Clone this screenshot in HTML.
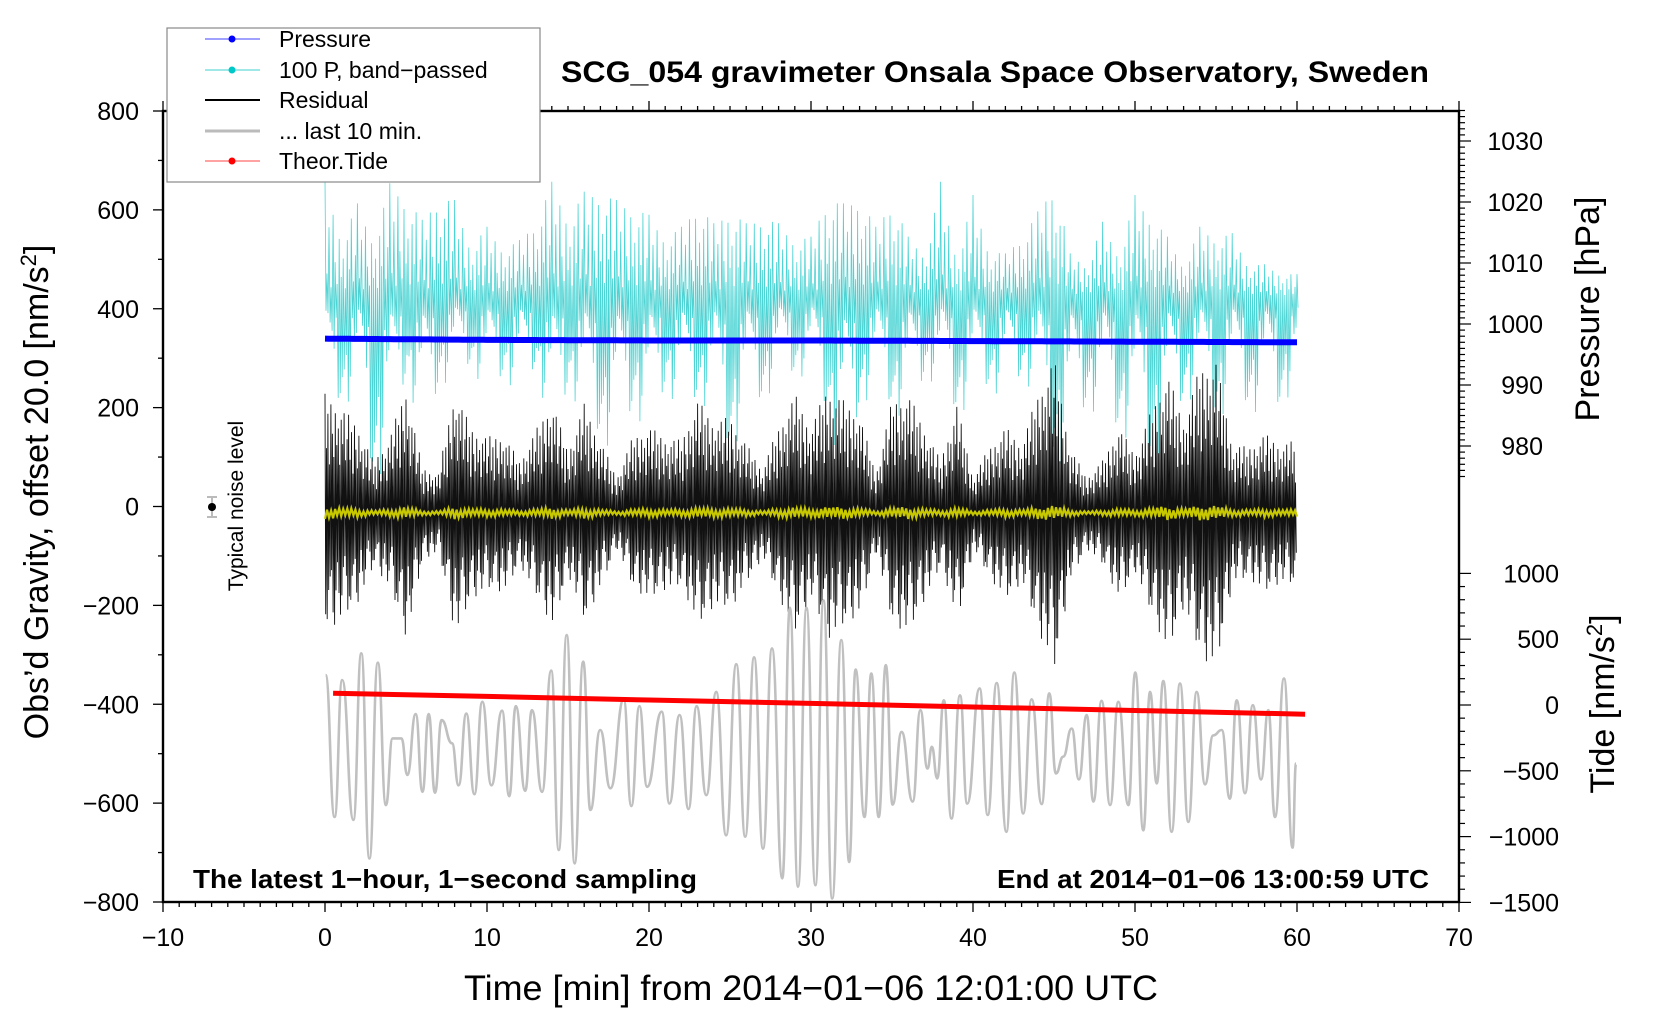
<!DOCTYPE html>
<html><head><meta charset="utf-8"><style>
html,body{margin:0;padding:0;background:#fff}
svg{display:block;font-family:"Liberation Sans",Arial,sans-serif}
</style></head><body>
<svg id="chart" width="1660" height="1020" viewBox="0 0 1660 1020" xmlns="http://www.w3.org/2000/svg">
<g id="plot"></g>
<g id="axes"></g>
<text x="995" y="82" font-size="30" font-weight="bold" text-anchor="middle" textLength="868" lengthAdjust="spacingAndGlyphs">SCG_054 gravimeter Onsala Space Observatory, Sweden</text>
<text x="193" y="888" font-size="26" font-weight="bold" textLength="504" lengthAdjust="spacingAndGlyphs">The latest 1−hour, 1−second sampling</text>
<text x="1429" y="888" font-size="26" font-weight="bold" text-anchor="end" textLength="432" lengthAdjust="spacingAndGlyphs">End at 2014−01−06 13:00:59 UTC</text>
<text x="811" y="1000" font-size="35" text-anchor="middle" textLength="694" lengthAdjust="spacingAndGlyphs">Time [min] from 2014−01−06 12:01:00 UTC</text>
<text transform="translate(48,492) rotate(-90)" font-size="34" text-anchor="middle">Obs’d Gravity, offset 20.0 [nm/s<tspan font-size="22" dy="-12">2</tspan><tspan dy="12">]</tspan></text>
<text transform="translate(1599,309) rotate(-90)" font-size="34" text-anchor="middle">Pressure [hPa]</text>
<text transform="translate(1614,704) rotate(-90)" font-size="34" text-anchor="middle">Tide [nm/s<tspan font-size="22" dy="-12">2</tspan><tspan dy="12">]</tspan></text>
<g>
<line x1="212" y1="497" x2="212" y2="517" stroke="#bbb" stroke-width="2"/>
<line x1="207" y1="497" x2="217" y2="497" stroke="#bbb" stroke-width="2"/>
<line x1="207" y1="517" x2="217" y2="517" stroke="#bbb" stroke-width="2"/>
<circle cx="212" cy="507" r="4" fill="#000"/>
<text transform="translate(243,506) rotate(-90)" font-size="21" text-anchor="middle">Typical noise level</text>
</g>
<g>
<rect x="167" y="28" width="373" height="154" fill="#fff" stroke="#888" stroke-width="1.2"/>
<g><line x1="205" y1="39" x2="260" y2="39" stroke="#4040ff" stroke-width="1"/><circle cx="232" cy="39" r="3.5" fill="#00f"/><text x="279" y="47" font-size="23">Pressure</text></g>
<g><line x1="205" y1="70" x2="260" y2="70" stroke="#40d0d0" stroke-width="1"/><circle cx="232" cy="70" r="3.5" fill="#00c8c8"/><text x="279" y="78" font-size="23">100 P, band−passed</text></g>
<g><line x1="205" y1="100" x2="260" y2="100" stroke="#000" stroke-width="2"/><text x="279" y="108" font-size="23">Residual</text></g>
<g><line x1="205" y1="131" x2="260" y2="131" stroke="#bbb" stroke-width="3"/><text x="279" y="139" font-size="23">... last 10 min.</text></g>
<g><line x1="205" y1="161" x2="260" y2="161" stroke="#f44" stroke-width="1"/><circle cx="232" cy="161" r="3.5" fill="#f00"/><text x="279" y="169" font-size="23">Theor.Tide</text></g>
</g>
</svg>
<script>
// ---- data ----
const residualMinutes = [0,1,2,3,4,5,6,7,8,9,10,11,12,13,14,15,16,17,18,19,20,21,22,23,24,25,26,27,28,29,30,31,32,33,34,35,36,37,38,39,40,41,42,43,44,45,46,47,48,49,50,51,52,53,54,55,56,57,58,59,60];
const residualEnvelope = [241,214,180,106,154,255,93,80,248,174,154,160,106,167,228,127,221,147,73,154,174,154,147,228,187,194,140,90,174,241,174,255,228,201,80,228,241,174,106,221,73,133,174,140,241,315,133,73,106,174,120,207,282,187,295,309,140,133,160,140,147];
const residualCenter = -13;
const cyanHigh = [661,566,613,560,654,657,580,657,620,546,566,539,539,600,657,613,637,671,620,637,590,566,566,640,573,627,573,613,573,560,546,654,613,657,566,650,546,526,657,519,630,533,512,566,597,691,512,499,576,526,630,613,546,499,566,566,553,500,490,480,470];
const cyanLow = [209,202,229,20,142,263,121,243,263,283,216,263,216,283,115,243,162,128,115,195,135,243,175,216,182,94,195,209,263,263,263,175,40,202,236,189,175,263,236,175,229,236,216,263,209,61,128,202,175,142,135,74,162,209,229,162,229,189,195,195,263];
const cyanMid = 420;
const greyTimes = [0.04,0.59,1.06,1.75,2.24,2.74,3.26,3.76,4.17,4.72,5.08,5.6,6.02,6.4,6.79,7.2,7.84,8.25,8.72,9.22,9.71,10.27,10.93,11.37,11.78,12.36,12.77,13.4,13.96,14.43,14.92,15.41,15.94,16.38,16.99,17.62,18.44,18.91,19.41,19.88,20.79,21.26,21.89,22.44,22.94,23.54,24.15,24.76,25.39,25.94,26.49,27.04,27.59,28.23,28.7,29.2,29.72,30.27,30.77,31.31,31.87,32.36,32.75,33.3,33.72,34.18,34.62,35.04,35.59,36.28,36.75,37.19,37.46,37.79,38.2,38.67,39.2,39.64,40.41,40.91,41.46,42.06,42.55,43.1,43.62,44.24,44.71,45.12,45.57,46.09,46.54,47.02,47.43,47.94,48.46,48.97,49.59,50.02,50.51,50.93,51.34,51.75,52.26,52.78,53.29,53.81,54.32,54.83,55.35,55.86,56.28,56.79,57.27,57.78,58.23,58.64,59.2,59.73,59.94];
const greyValues = [-341,-628,-351,-634,-297,-712,-316,-604,-469,-469,-543,-420,-577,-420,-579,-432,-479,-564,-419,-582,-395,-564,-413,-586,-404,-575,-412,-577,-332,-695,-260,-722,-314,-614,-452,-570,-390,-606,-404,-567,-415,-601,-422,-612,-404,-584,-375,-665,-319,-668,-305,-692,-287,-752,-205,-769,-205,-766,-190,-793,-270,-719,-330,-628,-338,-628,-321,-603,-456,-597,-412,-530,-486,-550,-392,-631,-382,-601,-368,-624,-357,-658,-336,-621,-390,-602,-378,-540,-506,-449,-552,-422,-597,-393,-604,-395,-604,-336,-655,-375,-560,-353,-658,-358,-638,-375,-562,-463,-452,-591,-392,-580,-402,-552,-412,-628,-348,-690,-520];
const pressureTimes = [0,10,20,30,40,50,60];
const pressureValues = [997.6,997.4,997.3,997.3,997.2,997.1,997.0];
const tideTimes = [0.5,10,20,30,40,50,60.5];
const tideValues = [90,65,38,12,-15,-42,-70];
const xTicks = [-10,0,10,20,30,40,50,60,70];
const yTicks = [800,600,400,200,0,-200,-400,-600,-800];
const pressureTicks = [1030,1020,1010,1000,990,980];
const tideTicks = [1000,500,0,-500,-1000,-1500];

// ---- scales ----
const X0=163, X1=1459, Y0=111, Y1=902;
const xs = t => X0 + (t+10)/80*(X1-X0);
const ys = v => Y0 + (800-v)/1600*(Y1-Y0);
const yp = p => 141 + (1030-p)*6.1;
const yt = v => 705 - v/500*65.8;
const NS="http://www.w3.org/2000/svg";
const plot=document.getElementById('plot'), axes=document.getElementById('axes');
function mk(tag,attrs,parent){const e=document.createElementNS(NS,tag);for(const k in attrs)e.setAttribute(k,attrs[k]);parent.appendChild(e);return e;}
function interp(ts,vs,t){if(t<=ts[0])return vs[0];for(let i=1;i<ts.length;i++){if(t<=ts[i]){const f=(t-ts[i-1])/(ts[i]-ts[i-1]);return vs[i-1]+f*(vs[i]-vs[i-1]);}}return vs[vs.length-1];}
const tex=[1,0.55,0.85,0.42,0.95,0.7,0.5,0.9,0.62,0.78,0.45,0.88,0.66,0.97,0.52,0.74];

// cyan band-passed
{let d='';const N=8;let k=0;
for(let t=0;t<=60;t+=1/N){const hi=interp(residualMinutes,cyanHigh,t),lo=interp(residualMinutes,cyanLow,t);
 const f=tex[k%tex.length], g=tex[(k*7+3)%tex.length];
 const vt=cyanMid+(hi-cyanMid)*Math.pow(f,2.5), vb=cyanMid-(cyanMid-lo)*Math.pow(g,2.5);
 d+=(k?'L':'M')+xs(t).toFixed(1)+','+ys(vt).toFixed(1)+'L'+xs(t+0.5/N).toFixed(1)+','+ys(vb).toFixed(1);k++;}
const p=mk('path',{d:d,fill:'none',stroke:'#20c8c8','stroke-width':0.8,'stroke-opacity':0.8},plot);

}

// pressure
{let d='';for(let t=0;t<=60;t+=0.25){const v=interp(pressureTimes,pressureValues,t);d+=(d?'L':'M')+xs(t).toFixed(1)+','+yp(v).toFixed(1);}
const p=mk('path',{d:d,fill:'none',stroke:'#0000ff','stroke-width':6},plot);

}

// residual
{let d='';const N=11;let k=0;
for(let t=0;t<=60;t+=1/N){const a=interp(residualMinutes,residualEnvelope,t);
 const f=tex[k%tex.length], g=tex[(k*5+2)%tex.length];
 d+=(k?'L':'M')+xs(t).toFixed(1)+','+ys(residualCenter+a*f).toFixed(1)+'L'+xs(t+0.5/N).toFixed(1)+','+ys(residualCenter-a*g).toFixed(1);k++;}
const p=mk('path',{d:d,fill:'none',stroke:'#111','stroke-width':0.9},plot);

}

// yellow smoothed residual
{let d='';let k=0;for(let t=0;t<=60;t+=0.125){const a=interp(residualMinutes,residualEnvelope,t)*0.05;const s=(k%2?1:-1)*a*tex[k%tex.length];
 d+=(k?'L':'M')+xs(t).toFixed(1)+','+ys(residualCenter+s).toFixed(1);k++;}
const p=mk('path',{d:d,fill:'none',stroke:'#c8c800','stroke-width':2.2},plot);

}

// grey last 10 min
{let d='M'+xs(greyTimes[0]).toFixed(1)+','+ys(greyValues[0]).toFixed(1);
for(let i=1;i<greyTimes.length;i++){const xa=xs(greyTimes[i-1]),xb=xs(greyTimes[i]),ya=ys(greyValues[i-1]),yb=ys(greyValues[i]);const h=(xb-xa)/2;
 d+='C'+(xa+h).toFixed(1)+','+ya.toFixed(1)+' '+(xb-h).toFixed(1)+','+yb.toFixed(1)+' '+xb.toFixed(1)+','+yb.toFixed(1);}
const p=mk('path',{d:d,fill:'none',stroke:'#c0c0c0','stroke-width':2.6},plot);

}

// tide
{let d='';tideTimes.forEach((t,i)=>{d+=(i?'L':'M')+xs(t).toFixed(1)+','+yt(tideValues[i]).toFixed(1);});
const p=mk('path',{d:d,fill:'none',stroke:'#ff0000','stroke-width':5},plot);

}

// ---- axes ----
const frame=mk('rect',{x:X0,y:Y0,width:X1-X0,height:Y1-Y0,fill:'none',stroke:'#000','stroke-width':2.4},axes);


for(let t=-10;t<=70;t++){const x=xs(t),L=(t%10===0)?10:5;
 mk('line',{x1:x,y1:Y1,x2:x,y2:Y1+L,stroke:'#000','stroke-width':1.3},axes);
 mk('line',{x1:x,y1:Y0,x2:x,y2:Y0-L,stroke:'#000','stroke-width':1.3},axes);}
xTicks.forEach(t=>{const e=mk('text',{x:xs(t),y:946,'font-size':25,'text-anchor':'middle'},axes);e.textContent=(t<0?'−':'')+Math.abs(t);
 
 });
for(let v=-800;v<=800;v+=100){const y=ys(v),L=(v%200===0)?10:5;mk('line',{x1:X0,y1:y,x2:X0-L,y2:y,stroke:'#000','stroke-width':1.3},axes);}
yTicks.forEach(v=>{const e=mk('text',{x:139,y:ys(v)+9,'font-size':25,'text-anchor':'end'},axes);e.textContent=(v<0?'−':'')+Math.abs(v);
 
 });
for(let p=1035;p>=975;p--){const y=yp(p),L=(p%10===0)?12:6;mk('line',{x1:X1,y1:y,x2:X1+L,y2:y,stroke:'#000','stroke-width':1.2},axes);}
pressureTicks.forEach(p=>{const e=mk('text',{x:1543,y:yp(p)+9,'font-size':25,'text-anchor':'end'},axes);e.textContent=p;
 
 });
for(let v=-1500;v<=1000;v+=100){const y=yt(v),L=(v%500===0)?12:6;mk('line',{x1:X1,y1:y,x2:X1+L,y2:y,stroke:'#000','stroke-width':1.2},axes);}
tideTicks.forEach(v=>{const e=mk('text',{x:1559,y:yt(v)+9,'font-size':25,'text-anchor':'end'},axes);e.textContent=(v<0?'−':'')+Math.abs(v);
 
 });
</script>
</body></html>
